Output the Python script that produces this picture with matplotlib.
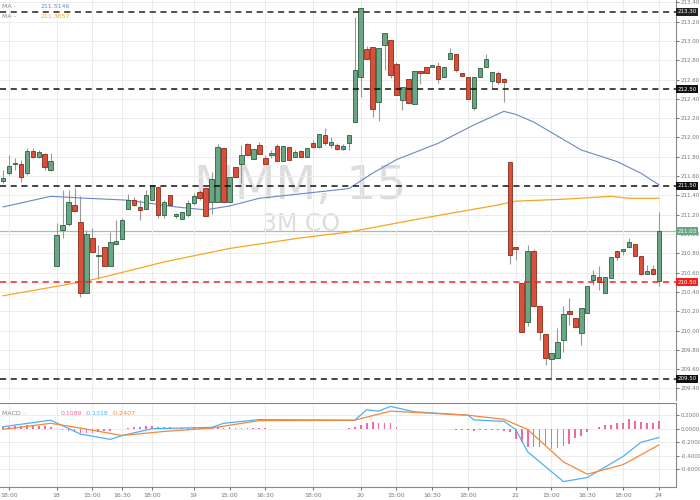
import matplotlib
matplotlib.use("Agg")
import matplotlib.pyplot as plt
import numpy as np

opens = [211.55,211.63,211.72,211.72,211.63,211.86,211.80,211.83,211.66,210.67,
 211.04,211.10,211.30,211.12,210.39,210.96,210.77,210.87,210.67,210.90,
 210.95,211.26,211.35,211.28,211.26,211.35,211.49,211.20,211.40,211.19,
 211.15,211.20,211.32,211.44,211.48,211.33,211.33,211.89,211.33,211.69,
 211.73,211.93,211.78,211.92,211.79,211.82,211.91,211.76,211.90,211.80,
 211.86,211.80,211.94,211.90,212.03,211.92,211.92,211.88,211.94,212.16,
 212.63,212.92,212.94,212.37,212.96,213.01,212.76,212.39,212.61,212.35,
 212.69,212.73,212.73,212.74,212.63,212.81,212.86,212.67,212.63,212.30,
 212.63,212.73,212.59,212.67,212.61,211.75,210.86,210.49,210.09,210.82,
 210.25,209.96,209.70,209.72,209.90,210.20,210.13,209.97,210.18,210.52,
 210.55,210.39,210.54,210.82,210.82,210.87,210.90,210.77,210.59,210.64,210.51]
closes = [211.58,211.70,211.72,211.59,211.86,211.80,211.85,211.69,211.76,210.99,
 211.09,211.33,211.24,210.39,211.00,210.81,210.78,210.67,210.92,210.93,
 211.14,211.35,211.30,211.25,211.40,211.51,211.20,211.33,211.30,211.19,
 211.23,211.32,211.39,211.37,211.19,211.57,211.90,211.33,211.59,211.59,
 211.82,211.82,211.88,211.83,211.73,211.84,211.76,211.91,211.77,211.85,
 211.80,211.89,211.90,212.04,211.94,211.95,211.88,211.91,212.03,212.70,
 213.34,212.81,212.29,212.93,213.08,212.65,212.44,212.52,212.36,212.69,
 212.67,212.67,212.75,212.61,212.73,212.87,212.70,212.64,212.40,212.63,
 212.72,212.81,212.68,212.57,212.57,210.78,210.84,209.98,210.82,210.25,
 209.98,209.72,209.77,209.88,210.17,210.17,210.04,210.23,210.46,210.57,
 210.50,210.55,210.76,210.76,210.84,210.92,210.77,210.59,210.62,210.59,211.03]
highs = [211.66,211.82,211.79,211.77,211.89,211.89,211.87,211.84,211.84,211.11,
 211.46,211.46,211.48,211.39,211.04,211.06,210.89,210.87,211.02,211.14,
 211.17,211.41,211.38,211.35,211.46,211.51,211.49,211.35,211.40,211.22,
 211.23,211.35,211.42,211.46,211.48,211.64,211.93,211.89,211.59,211.69,
 211.92,211.94,211.88,211.95,211.82,211.87,211.93,211.91,211.90,211.87,
 211.87,211.89,211.97,212.04,212.10,212.00,211.94,211.93,212.03,213.25,
 213.34,212.95,212.94,212.93,213.08,213.01,212.78,212.52,212.61,212.69,
 212.69,212.73,212.75,212.78,212.73,212.93,212.86,212.67,212.63,212.63,
 212.72,212.86,212.68,212.69,212.62,211.75,210.86,210.49,210.89,210.84,
 210.25,209.96,209.77,210.03,210.25,210.34,210.13,210.23,210.46,210.63,
 210.67,210.55,210.76,210.82,210.84,210.96,210.90,210.77,210.68,210.68,211.23]
lows = [211.53,211.61,211.66,211.54,211.61,211.79,211.79,211.66,211.65,210.67,
 210.96,211.08,211.24,210.35,210.39,210.81,210.53,210.67,210.67,210.89,
 210.95,211.26,211.29,211.14,211.26,211.35,211.17,211.17,211.30,211.17,
 211.15,211.18,211.30,211.35,211.19,211.21,211.33,211.33,211.33,211.59,
 211.53,211.82,211.78,211.83,211.73,211.79,211.76,211.76,211.77,211.80,
 211.80,211.80,211.89,211.89,211.92,211.89,211.87,211.87,211.87,212.16,
 212.42,212.81,212.21,212.17,212.70,212.62,212.44,212.28,212.36,212.35,
 212.55,212.67,212.73,212.56,212.63,212.81,212.68,212.64,212.40,212.28,
 212.63,212.73,212.51,212.55,212.37,210.69,210.73,209.98,210.05,210.25,
 209.90,209.64,209.49,209.72,209.78,210.06,210.04,209.85,210.18,210.47,
 210.42,210.39,210.54,210.73,210.78,210.87,210.77,210.58,210.59,210.57,210.46]

ma_blue_idx = [0,8,14,21,29,34,38,43,49,58,59,62,66,73,79,84,86,89,97,103,107,110]
ma_blue = [211.28,211.39,211.37,211.35,211.28,211.25,211.29,211.37,211.41,211.47,211.51,
           211.63,211.77,211.94,212.13,212.27,212.24,212.16,211.87,211.75,211.63,211.51]
ma_orange_idx = [0,12,16,27,38,50,58,71,83,86,94,102,105,110]
ma_orange = [210.36,210.49,210.54,210.71,210.85,210.96,211.02,211.17,211.30,211.34,211.36,211.39,211.37,211.37]

macd_idx = [0,8,13,18,20,25,35,37,43,59,61,63,65,69,78,79,84,86,88,94,98,104,107,110]
macd_line = [0.03,0.126,-0.078,-0.157,-0.10,0.0,0.02,0.08,0.135,0.126,0.28,0.26,0.33,0.25,
             0.20,0.13,0.11,-0.01,-0.34,-0.78,-0.72,-0.41,-0.20,-0.13]
signal_idx = [0,8,13,20,27,35,43,59,65,78,84,88,94,98,104,110]
signal_line = [-0.01,0.08,0.01,-0.10,-0.04,0.01,0.12,0.126,0.26,0.20,0.14,-0.01,-0.49,-0.67,-0.53,-0.24]
hist = [0.03,0.03,0.04,0.04,0.05,0.04,0.04,0.04,0.03,-0.01,
 -0.02,-0.03,-0.05,-0.07,-0.06,-0.06,-0.05,-0.04,-0.03,-0.01,
 0.0,0.01,0.02,0.03,0.04,0.04,0.03,0.02,0.02,0.01,
 0.01,0.01,0.02,0.02,0.02,0.02,0.02,0.01,0.02,0.01,
 0.01,0.01,0.01,0.01,0.01,0.0,0.0,0.0,0.0,0.0,
 0.0,0.0,0.0,0.0,0.0,0.0,0.0,0.0,0.01,0.03,
 0.05,0.08,0.10,0.08,0.09,0.08,0.02,0.0,-0.01,-0.01,
 -0.01,-0.01,-0.01,-0.01,-0.01,-0.01,-0.02,-0.02,-0.02,-0.03,
 -0.02,-0.02,-0.02,-0.02,-0.03,-0.05,-0.15,-0.20,-0.27,-0.27,
 -0.27,-0.26,-0.30,-0.28,-0.25,-0.23,-0.13,-0.10,-0.05,0.0,
 0.03,0.05,0.06,0.08,0.09,0.14,0.12,0.10,0.09,0.08,0.11]

tick_idx = [1,9,15,20,25,32,38,44,52,60,66,72,78,86,92,98,104,110]
tick_labels = ["18:00","18","15:00","16:30","18:00","19","15:00","16:30","18:00",
               "20","15:00","16:30","18:00","21","15:00","16:30","18:00","24"]
levels = [213.30,212.50,211.50,210.50,209.50]
level_colors = ["#222222","#111111","#111111","#ee2222","#111111"]
last_price = 211.03

fig = plt.figure(figsize=(7,5), dpi=100)
RIGHT = 0.965
ax = fig.add_axes([0.0,0.2,RIGHT,0.8])
ax2 = fig.add_axes([0.0,0.026,RIGHT,0.168])

n = len(opens)
x = np.arange(n)
for i in range(n):
    o,c,h,l = opens[i],closes[i],highs[i],lows[i]
    up = c >= o
    fc = "#6aa584" if up else "#d9503a"
    ec = "#2d5e3f" if up else "#8b2a1a"
    ax.vlines(x[i], l, h, color="#9a9a9a", lw=0.8, zorder=2)
    ax.bar(x[i], max(abs(c-o),0.012), bottom=min(o,c), width=0.75, color=fc, edgecolor=ec, lw=0.6, zorder=3)

ax.plot(ma_blue_idx, ma_blue, color="#6b86c9", lw=0.8, zorder=2)
ax.plot(ma_orange_idx, ma_orange, color="#f5a623", lw=0.9, zorder=2)

for lv, col in zip(levels, level_colors):
    ax.axhline(lv, color=col, ls=(0,(4,3)), lw=1.1, zorder=4)
    ax.text(1.003, lv, f"{lv:.2f}", transform=ax.get_yaxis_transform(), fontsize=4, color="white",
            va="center", ha="left", bbox=dict(boxstyle="square,pad=0.25", fc=col, ec="none"), zorder=6, clip_on=False)
ax.axhline(last_price, color="#9bc7a8", lw=0.9, zorder=1)
ax.text(1.003, last_price, f"{last_price:.2f}", transform=ax.get_yaxis_transform(), fontsize=4, color="white",
        va="center", ha="left", bbox=dict(boxstyle="square,pad=0.25", fc="#6aa584", ec="none"), zorder=6, clip_on=False)

ax.set_xlim(-0.5, 112.8)
ax.set_ylim(209.28, 213.424)
ax.set_yticks(np.round(np.arange(209.4, 213.41, 0.2), 2))
ax.yaxis.tick_right()
ax.tick_params(axis="y", labelsize=4, colors="#777777", length=2, pad=2)
ax.set_yticklabels([f"{v:.2f}" for v in ax.get_yticks()])
ax.set_xticks(tick_idx)
ax.tick_params(axis="x", length=0, labelbottom=False)
ax.grid(True, color="#ececec", lw=0.7, zorder=0)
for s in ["top","left","bottom"]:
    ax.spines[s].set_visible(False)
ax.spines["right"].set_color("#888888")

ax.text(0.445, 0.535, "MMM, 15", transform=ax.transAxes, fontsize=34, color="#dddddd", ha="center", va="center", zorder=1)
ax.text(0.445, 0.44, "3M CO", transform=ax.transAxes, fontsize=17, color="#dddddd", ha="center", va="center", zorder=1)
ax.text(0.003, 0.99, "MA -", transform=ax.transAxes, fontsize=4.5, color="#888888", va="top")
ax.text(0.06, 0.99, "211.5146", transform=ax.transAxes, fontsize=4.5, color="#6b86c9", va="top")
ax.text(0.003, 0.965, "MA -", transform=ax.transAxes, fontsize=4.5, color="#888888", va="top")
ax.text(0.06, 0.965, "211.3657", transform=ax.transAxes, fontsize=4.5, color="#f5a623", va="top")

ax2.bar(x, hist, width=0.3, color="#f06aa0", zorder=2)
ax2.plot(macd_idx, macd_line, color="#4db1f5", lw=0.9, zorder=3)
ax2.plot(signal_idx, signal_line, color="#f5883a", lw=0.9, zorder=3)
ax2.set_xlim(-0.5, 112.8)
ax2.set_ylim(-0.86, 0.38)
ax2.set_yticks([0.2,0.0,-0.2,-0.4,-0.6])
ax2.set_yticklabels(["0.2000","0.0000","-0.2000","-0.4000","-0.6000"])
ax2.yaxis.tick_right()
ax2.tick_params(axis="y", labelsize=4, colors="#777777", length=2, pad=2)
ax2.set_xticks(tick_idx)
ax2.set_xticklabels(tick_labels)
ax2.tick_params(axis="x", labelsize=4.5, colors="#777777", length=2, pad=2)
ax2.grid(True, color="#ececec", lw=0.7, zorder=0)
ax2.spines["top"].set_color("#888888")
ax2.spines["left"].set_visible(False)
ax2.spines["right"].set_color("#888888")
ax2.spines["bottom"].set_color("#888888")
ax2.text(0.003, 0.9, "MACD -", transform=ax2.transAxes, fontsize=4.5, color="#888888", va="top")
ax2.text(0.09, 0.9, "0.1089", transform=ax2.transAxes, fontsize=4.5, color="#f06aa0", va="top")
ax2.text(0.125, 0.9, "-0.1318", transform=ax2.transAxes, fontsize=4.5, color="#4db1f5", va="top")
ax2.text(0.165, 0.9, "-0.2407", transform=ax2.transAxes, fontsize=4.5, color="#f5883a", va="top")

fig.savefig("out.png", dpi=100, facecolor="white")
